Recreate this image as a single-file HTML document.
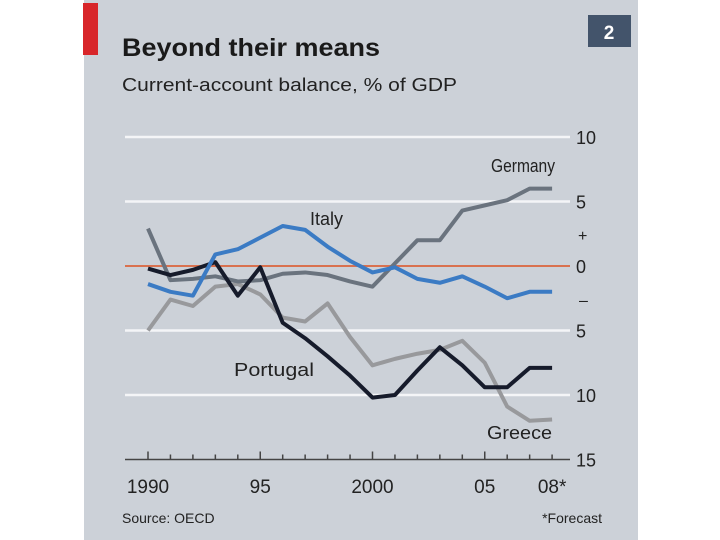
<!DOCTYPE html>
<html><head><meta charset="utf-8"><style>
html,body{margin:0;padding:0;background:#fff;}
body{width:720px;height:540px;overflow:hidden;position:relative;font-family:"Liberation Sans",sans-serif;}
</style></head><body>
<svg id="chart" width="720" height="540" xmlns="http://www.w3.org/2000/svg" style="position:absolute;left:0;top:0">
<rect x="84" y="0" width="554" height="540" fill="#ccd1d8"/>
<rect x="83" y="3" width="15" height="52" fill="#d8262a"/>
<text x="122" y="56" font-size="25" font-weight="bold" fill="#1a1a1a" textLength="258" lengthAdjust="spacingAndGlyphs">Beyond their means</text>
<text x="122" y="91" font-size="18" fill="#222" textLength="335" lengthAdjust="spacingAndGlyphs">Current-account balance, % of GDP</text>
<rect x="588" y="15" width="43" height="32" fill="#43546b"/>
<text x="609" y="39" font-size="19" font-weight="bold" fill="#fff" text-anchor="middle">2</text>
<g id="grid"></g>
<g id="series"></g>
<g id="axis"></g>
<text x="491" y="172" font-size="18" fill="#222" textLength="64" lengthAdjust="spacingAndGlyphs">Germany</text>
<text x="310" y="225" font-size="18" fill="#222">Italy</text>
<text x="234" y="376" font-size="18" fill="#222" textLength="80" lengthAdjust="spacingAndGlyphs">Portugal</text>
<text x="487" y="439" font-size="18" fill="#222" textLength="65" lengthAdjust="spacingAndGlyphs">Greece</text>
<text x="122" y="523" font-size="14" fill="#222">Source: OECD</text>
<text x="602" y="523" font-size="14" fill="#222" text-anchor="end">*Forecast</text>
</svg>
<script>
const years = [1990,1991,1992,1993,1994,1995,1996,1997,1998,1999,2000,2001,2002,2003,2004,2005,2006,2007,2008];
const germany = [2.9,-1.1,-1.0,-0.8,-1.2,-1.1,-0.6,-0.5,-0.7,-1.2,-1.6,0.2,2.0,2.0,4.3,4.7,5.1,6.0,6.0];
const italy = [-1.4,-2.0,-2.3,0.9,1.3,2.2,3.1,2.8,1.5,0.4,-0.5,-0.1,-1.0,-1.3,-0.8,-1.6,-2.5,-2.0,-2.0];
const portugal = [-0.2,-0.7,-0.3,0.3,-2.3,-0.1,-4.4,-5.6,-7.0,-8.5,-10.2,-10.0,-8.1,-6.3,-7.7,-9.4,-9.4,-7.9,-7.9];
const greece = [-5.0,-2.6,-3.1,-1.6,-1.4,-2.2,-4.0,-4.3,-2.9,-5.5,-7.7,-7.2,-6.8,-6.5,-5.8,-7.5,-10.9,-12.0,-11.9];
const yTicks = [10,5,0,-5,-10,-15];
const yTickLabels = ["10","5","0","5","10","15"];
const xLabelYears = [1990,1995,2000,2005,2008];
const xLabels = ["1990","95","2000","05","08*"];

const NS = "http://www.w3.org/2000/svg";
const x = y => 148 + (y - 1990) * 22.45;
const yv = v => 266 - v * 12.9;
function mk(tag, attrs, parent){const e=document.createElementNS(NS,tag);for(const k in attrs)e.setAttribute(k,attrs[k]);parent.appendChild(e);return e;}
const grid=document.getElementById('grid'), ser=document.getElementById('series'), ax=document.getElementById('axis');
yTicks.forEach((t,i)=>{
  if(t!==0 && t!==-15){
    const l=mk('line',{x1:125,x2:570,y1:yv(t),y2:yv(t),stroke:'#f4f5f7','stroke-width':2.5},grid);
    
    
  }
  const tx=mk('text',{x:576,y:yv(t)+7,'font-size':18,fill:'#222'},ax);
  tx.textContent=yTickLabels[i];
  
  
});
const plus=mk('text',{x:578,y:yv(2.5)+7,'font-size':16,fill:'#222'},ax);plus.textContent='+';


const minus=mk('text',{x:579,y:yv(-2.5)+7,'font-size':16,fill:'#222'},ax);minus.textContent='–';


const zero=mk('line',{x1:125,x2:570,y1:yv(0),y2:yv(0),stroke:'#d9714f','stroke-width':2},grid);


const axl=mk('line',{x1:125,x2:570,y1:yv(-15),y2:yv(-15),stroke:'#444','stroke-width':1.5},ax);


years.forEach(yr=>{
  const major=(yr%5===0);
  const t=mk('line',{x1:x(yr),x2:x(yr),y1:yv(-15),y2:yv(-15)-(major?8:5),stroke:'#444','stroke-width':1.5},ax);
  
  
});
xLabelYears.forEach((yr,i)=>{
  const t=mk('text',{x:x(yr),y:493,'font-size':19,fill:'#222','text-anchor':'middle'},ax);
  t.textContent=xLabels[i];
  
  
});
function line(data,color,name){
  const p=mk('polyline',{points:data.map((v,i)=>x(years[i])+','+yv(v)).join(' '),fill:'none',stroke:color,'stroke-width':4,'stroke-linejoin':'round'},ser);
  
  
}
line(greece,'#98999c','greece-line');
line(germany,'#6a737e','germany-line');
line(portugal,'#161b2b','portugal-line');
line(italy,'#3b7bc4','italy-line');
</script>
</body></html>
